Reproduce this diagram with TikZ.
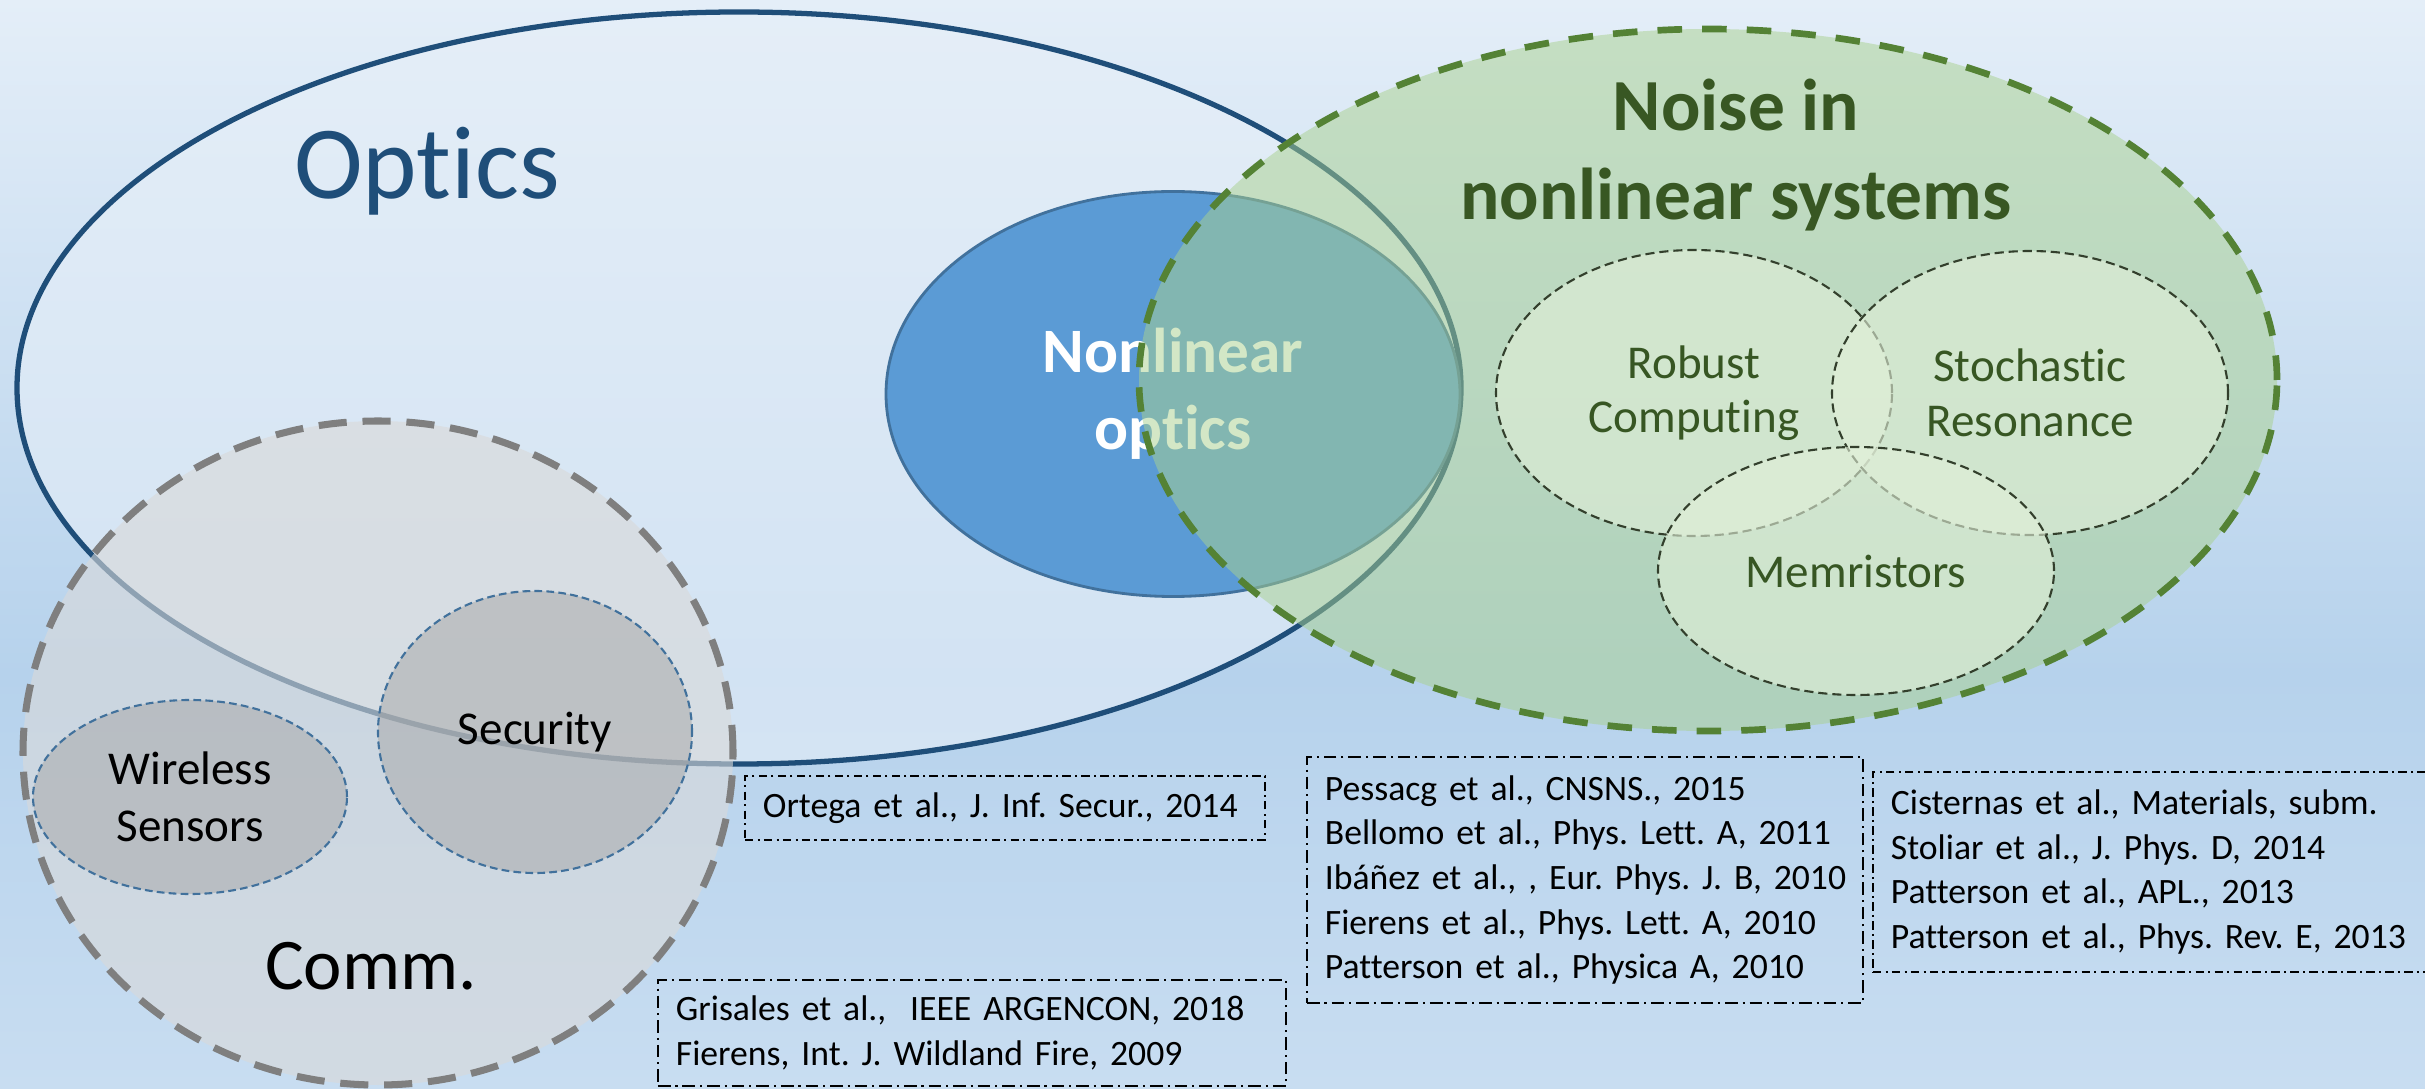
\documentclass[tikz,border=0pt]{standalone}
\usepackage{fontspec}
\setmainfont[Ligatures={NoCommon}]{Carlito}
\usetikzlibrary{positioning,shapes.geometric}

\definecolor{bgtop}{HTML}{E4EEF8}
\definecolor{bgmid}{HTML}{B6D2EC}
\definecolor{bgbot}{HTML}{C8DDF1}
\definecolor{opticsfill}{HTML}{E6EFF8}
\definecolor{opticsblue}{HTML}{1F4E79}
\definecolor{nlblue}{HTML}{5B9BD5}
\definecolor{nlline}{HTML}{41719C}
\definecolor{noisefill}{HTML}{A9D18E}
\definecolor{noiseline}{HTML}{548235}
\definecolor{noisetext}{HTML}{385723}
\definecolor{subfill}{HTML}{E2F0D9}
\definecolor{subline}{HTML}{333F2C}
\definecolor{subtext}{HTML}{375623}
\definecolor{commfill}{HTML}{D9D9D9}
\definecolor{commline}{HTML}{7F7F7F}
\definecolor{secfill}{HTML}{A6A6A6}
\definecolor{secline}{HTML}{41719C}

\pgfdeclareverticalshading{bgfade}{100bp}{color(0bp)=(bgbot); color(25bp)=(bgbot); color(44bp)=(bgmid); color(75bp)=(bgtop); color(100bp)=(bgtop)}

\begin{document}
\begin{tikzpicture}[
    set/.style={ellipse, inner sep=0pt},
    subset/.style={set, draw=subline, line width=0.6pt, dash pattern=on 2.6pt off 1.4pt,
      fill=subfill, fill opacity=0.6, text=subtext, align=center,
      font=\fontsize{13.4}{15.5}\selectfont, text opacity=1},
    commset/.style={set, draw=secline, line width=0.6pt, dash pattern=on 2.2pt off 1.2pt,
      fill=secfill, fill opacity=0.5, align=center,
      font=\fontsize{13.4}{16.2}\selectfont, text opacity=1},
    refbox/.style={draw, line width=0.5pt, dash pattern=on 3.6pt off 1.4pt on 0.6pt off 1.4pt,
      anchor=north west, inner xsep=0.18cm, inner ysep=0pt, align=left,
      font=\fontsize{10.15}{12.7}\selectfont\frenchspacing}
  ]
  \useasboundingbox (0,0) rectangle (24.25,10.88);
  \clip (0,0) rectangle (24.25,10.88);
  \shade[shading=bgfade] (0,0) rectangle (24.25,10.88);

  % Optics and nonlinear optics
  \node[set, draw=opticsblue, line width=1.5pt, fill=opticsfill, fill opacity=0.6,
    minimum width=14.44cm, minimum height=7.52cm] (optics) at (7.39,7.00) {};
  \node[set, draw=nlline, line width=0.8pt, fill=nlblue, text=white, align=center,
    font=\bfseries\fontsize{18}{22}\selectfont,
    minimum width=5.74cm, minimum height=4.05cm] (nlopt) at (11.73,6.94) {Nonlinear\\optics};

  % Noise in nonlinear systems
  \node[set, draw=noiseline, line width=1.9pt, dash pattern=on 7pt off 5.7pt,
    fill=noisefill, fill opacity=0.5,
    minimum width=11.38cm, minimum height=7.02cm] (noise) at (17.08,7.08) {};
  \node[font=\bfseries\fontsize{20.9}{25.6}\selectfont, text=noisetext, align=center]
    (noiselabel) at (17.36,9.33) {Noise in\\nonlinear systems};
  \node[subset, minimum width=3.96cm, minimum height=2.86cm] (robust) at (16.94,6.95) {Robust\\Computing};
  \node[subset, minimum width=3.96cm, minimum height=2.84cm] (stoch) at (20.30,6.95) {Stochastic\\Resonance};
  \node[subset, minimum width=3.96cm, minimum height=2.48cm] (memr) at (18.56,5.17) {Memristors};

  % Communications
  \node[set, draw=commline, line width=2pt, dash pattern=on 8pt off 4.5pt,
    fill=commfill, fill opacity=0.6,
    minimum width=7.10cm, minimum height=6.64cm] (comm) at (3.78,3.35) {};
  \node[commset, minimum width=3.14cm, minimum height=1.94cm] (wireless) at (1.90,2.91) {Wireless\\Sensors};
  \node[commset, minimum width=3.14cm, minimum height=2.82cm] (security) at (5.35,3.56) {Security};

  \node[font=\fontsize{29.5}{35}\selectfont, text=opticsblue, anchor=base] (opticslabel) at (4.27,8.89) {Optics};
  \node[font=\fontsize{20.7}{25}\selectfont, anchor=base] (commlabel) at (3.71,0.99) {Comm.};

  % References
  \node[refbox, text width=4.84cm, minimum height=0.64cm,
    dash pattern=on 2.4pt off 1.2pt on 0.6pt off 1.2pt] (ref1) at (7.44,3.13)
    {Ortega et al., J. Inf. Secur., 2014};
  \node[refbox, text width=5.92cm, minimum height=1.06cm] (ref2) at (6.57,1.09)
    {Grisales et al.,\ \ IEEE ARGENCON, 2018\\Fierens, Int. J. Wildland Fire, 2009};
  \node[refbox, text width=5.20cm, minimum height=2.46cm] (ref3) at (13.06,3.32)
    {Pessacg et al., CNSNS., 2015\\Bellomo et al., Phys. Lett. A, 2011\\\mbox{Ibáñez et al., , Eur. Phys. J. B, 2010}\\Fierens et al., Phys. Lett. A, 2010\\Patterson et al., Physica A, 2010};
  \node[refbox, text width=5.39cm, minimum height=2.00cm,
    dash pattern=on 2.4pt off 1.2pt on 0.6pt off 1.2pt] (ref4) at (18.72,3.17)
    {Cisternas et al., Materials, subm.\\Stoliar et al., J. Phys. D, 2014\\Patterson et al., APL., 2013\\Patterson et al., Phys. Rev. E, 2013};
\end{tikzpicture}
\end{document}
